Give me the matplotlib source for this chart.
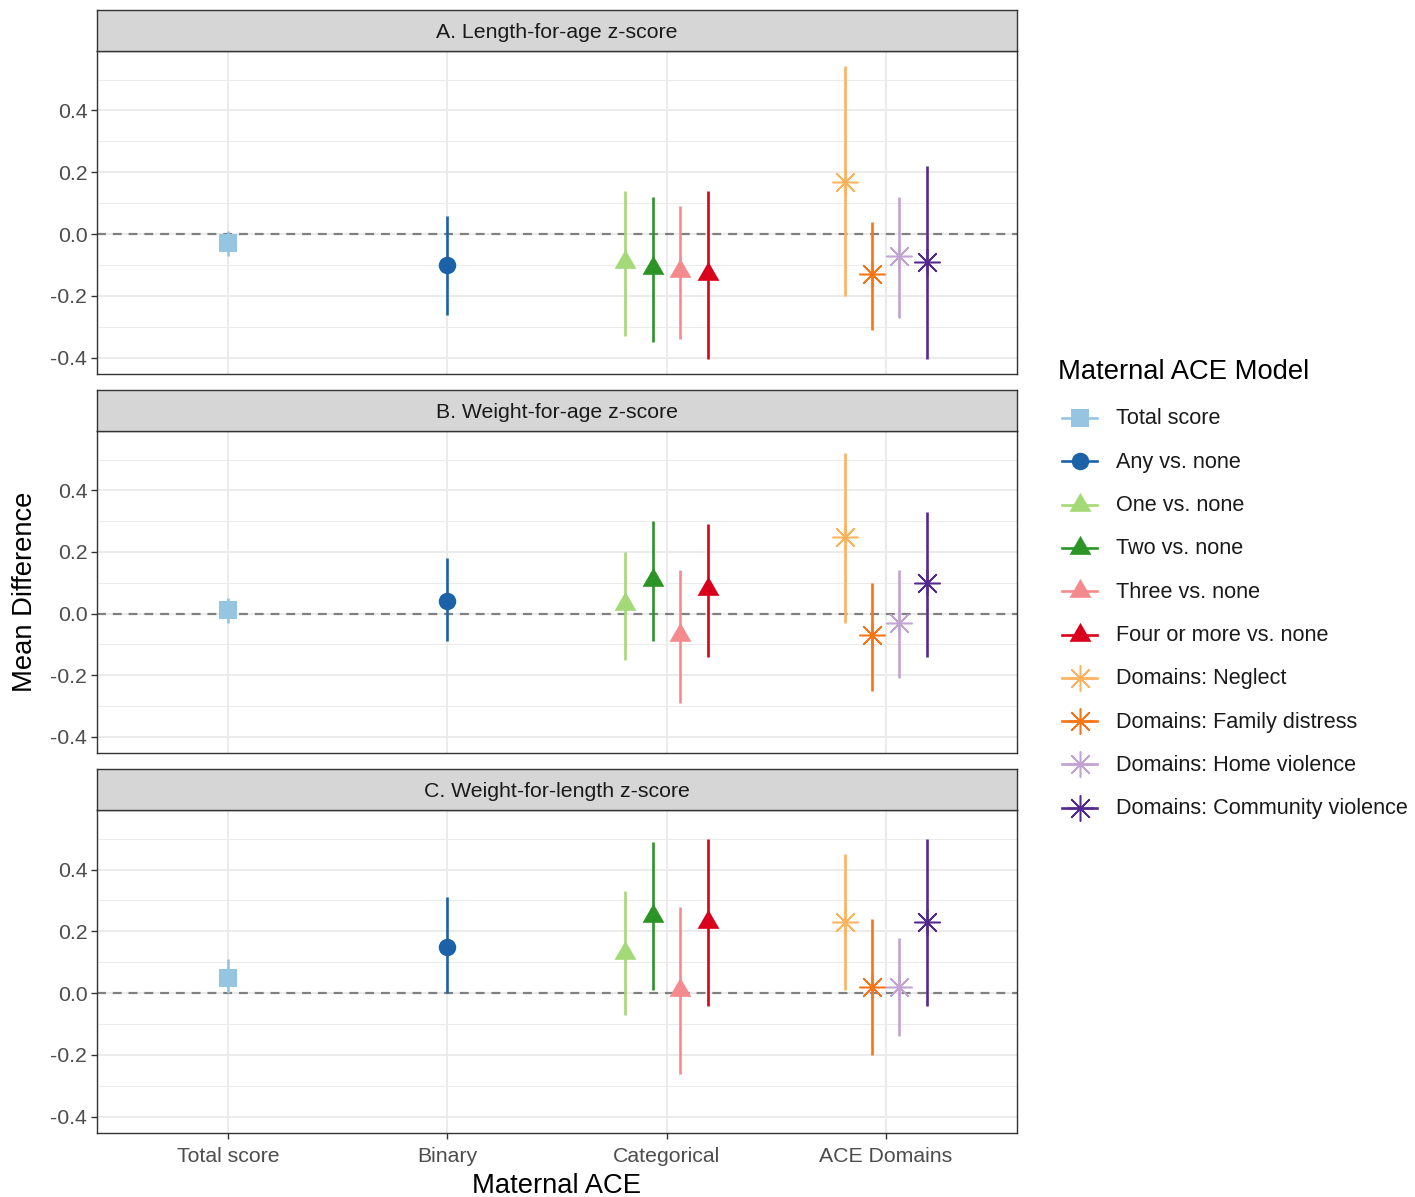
import numpy as np
import matplotlib

matplotlib.use("Agg")
import matplotlib.pyplot as plt
from matplotlib.lines import Line2D

plt.rcParams["font.family"] = ["Liberation Sans", "DejaVu Sans"]

# ---- data ----
groups = ["Total score", "Binary", "Categorical", "ACE Domains"]

models = [
    "Total score",
    "Any vs. none",
    "One vs. none",
    "Two vs. none",
    "Three vs. none",
    "Four or more vs. none",
    "Domains: Neglect",
    "Domains: Family distress",
    "Domains: Home violence",
    "Domains: Community violence",
]
model_group = [
    "Total score", "Binary",
    "Categorical", "Categorical", "Categorical", "Categorical",
    "ACE Domains", "ACE Domains", "ACE Domains", "ACE Domains",
]

outcomes = [
    "A. Length-for-age z-score",
    "B. Weight-for-age z-score",
    "C. Weight-for-length z-score",
]

est_a = [-0.03, -0.10, -0.09, -0.11, -0.12, -0.13, 0.17, -0.13, -0.07, -0.09]
lo_a = [-0.07, -0.26, -0.33, -0.35, -0.34, -0.405, -0.20, -0.31, -0.27, -0.405]
hi_a = [0.01, 0.06, 0.14, 0.12, 0.09, 0.14, 0.545, 0.04, 0.12, 0.22]

est_b = [0.01, 0.04, 0.03, 0.11, -0.07, 0.08, 0.25, -0.07, -0.03, 0.10]
lo_b = [-0.03, -0.09, -0.15, -0.09, -0.29, -0.14, -0.03, -0.25, -0.21, -0.14]
hi_b = [0.05, 0.18, 0.20, 0.30, 0.14, 0.29, 0.52, 0.10, 0.14, 0.33]

est_c = [0.05, 0.15, 0.13, 0.25, 0.01, 0.23, 0.23, 0.02, 0.02, 0.23]
lo_c = [0.00, 0.00, -0.07, 0.01, -0.26, -0.04, 0.01, -0.20, -0.14, -0.04]
hi_c = [0.11, 0.31, 0.33, 0.49, 0.28, 0.50, 0.45, 0.24, 0.18, 0.50]

# ---- styles ----
colors = [
    "#95c5e0", "#1b62a8", "#a3d977", "#2a9526", "#f58a8e",
    "#d9001b", "#fdb35e", "#f87414", "#c0a3d3", "#54298f",
]
TRIANGLE = [(0.0, 1.0), (-0.866, -0.5), (0.866, -0.5)]
ASTERISK = (8, 2, 0)
markers = ["s", "o", TRIANGLE, TRIANGLE, TRIANGLE, TRIANGLE,
           ASTERISK, ASTERISK, ASTERISK, ASTERISK]
msizes = [12.6, 12.6, 18.2, 18.2, 18.2, 18.2, 18.7, 18.7, 18.7, 18.7]

W, H = 1415, 1197
DPI = 100
PANEL_L, PANEL_R = 97, 1017
PANELS = [(51, 374), (431, 753), (810, 1133)]  # top, bottom in pixels
STRIP_H = 41
GRID = "#ebebeb"
DARK = "#333333"
TICK_TXT = "#4d4d4d"


def fig_rect(x0, y0, x1, y1):
    """pixel box (top-left origin) -> figure fraction rect"""
    return [x0 / W, 1 - y1 / H, (x1 - x0) / W, (y1 - y0) / H]


def dodge_positions():
    xs = []
    for m, g in zip(models, model_group):
        members = [mm for mm, gg in zip(models, model_group) if gg == g]
        k = len(members)
        i = members.index(m)
        step = 0.5 / k
        xs.append(groups.index(g) + 1 + (i - (k - 1) / 2) * step)
    return np.array(xs)


x_pos = dodge_positions()
all_lo = min(lo_a + lo_b + lo_c)
all_hi = max(hi_a + hi_b + hi_c)
pad = 0.05 * (all_hi - all_lo)
ylim = (all_lo - pad, all_hi + pad)

fig = plt.figure(figsize=(W / DPI, H / DPI), dpi=DPI)

panel_data = [(est_a, lo_a, hi_a), (est_b, lo_b, hi_b), (est_c, lo_c, hi_c)]
for p, ((top, bottom), title, (est, lo, hi)) in enumerate(zip(PANELS, outcomes, panel_data)):
    ax = fig.add_axes(fig_rect(PANEL_L, top, PANEL_R, bottom))
    ax.set_xlim(0.4, 4.6)
    ax.set_ylim(*ylim)
    ax.set_xticks(range(1, len(groups) + 1))
    ax.set_yticks([-0.4, -0.2, 0.0, 0.2, 0.4])
    ax.set_yticks([-0.3, -0.1, 0.1, 0.3, 0.5], minor=True)
    ax.set_yticklabels(["-0.4", "-0.2", "0.0", "0.2", "0.4"])
    ax.grid(which="major", color=GRID, lw=1.4, zorder=0)
    ax.grid(which="minor", axis="y", color=GRID, lw=0.7, zorder=0)
    ax.set_axisbelow(True)
    ax.tick_params(which="minor", length=0)
    ax.tick_params(which="major", length=4, width=1.0, color=DARK,
                   labelsize=15.3, labelcolor=TICK_TXT, pad=3)
    if p < 2:
        ax.tick_params(axis="x", length=0, labelbottom=False)
    else:
        ax.set_xticklabels(groups)
        ax.tick_params(axis="x", pad=6)
    for s in ax.spines.values():
        s.set_color(DARK)
        s.set_linewidth(1.0)

    ax.axhline(0, color="#808080", lw=1.6, ls=(0, (4, 3.1)), zorder=1)

    for i in range(len(models)):
        ax.vlines(x_pos[i], lo[i], hi[i], color=colors[i], lw=1.9, zorder=2)
        is_star = markers[i] == ASTERISK
        ax.plot(x_pos[i], est[i], ls="none", marker=markers[i], ms=msizes[i],
                color=colors[i], mec=colors[i], mew=1.1 if is_star else 0,
                zorder=3)

    sax = fig.add_axes(fig_rect(PANEL_L, top - STRIP_H, PANEL_R, top))
    sax.set_facecolor("#d6d6d6")
    sax.set_xticks([])
    sax.set_yticks([])
    for s in sax.spines.values():
        s.set_color(DARK)
        s.set_linewidth(1.0)
    sax.text(0.5, 0.45, title, ha="center", va="center", fontsize=15.3,
             color="#1a1a1a", transform=sax.transAxes)

fig.text(25 / W, 1 - 592 / H, "Mean Difference", rotation=90, ha="center",
         va="center", fontsize=19.7)
fig.text((PANEL_L + PANEL_R) / 2 / W, 1 - 1186 / H, "Maternal ACE",
         ha="center", va="center", fontsize=19.7)

# ---- legend, drawn by hand to mimic ggplot ----
fig.text(1058 / W, 1 - 372 / H, "Maternal ACE Model", ha="left",
         va="center", fontsize=19.7)
for i, name in enumerate(models):
    yc = 418 + i * 43.3
    yf = 1 - yc / H
    is_star = markers[i] == ASTERISK
    fig.add_artist(Line2D([1062 / W, 1097 / W], [yf, yf], color=colors[i],
                          lw=1.9, transform=fig.transFigure))
    fig.add_artist(Line2D([1079.5 / W], [yf], ls="none", marker=markers[i],
                          ms=msizes[i], color=colors[i], mec=colors[i],
                          mew=1.1 if is_star else 0,
                          transform=fig.transFigure))
    fig.text(1116 / W, 1 - (yc + 1) / H, name, ha="left", va="center",
             fontsize=15.6, color="#1a1a1a")

fig.savefig("out.png", dpi=DPI)
